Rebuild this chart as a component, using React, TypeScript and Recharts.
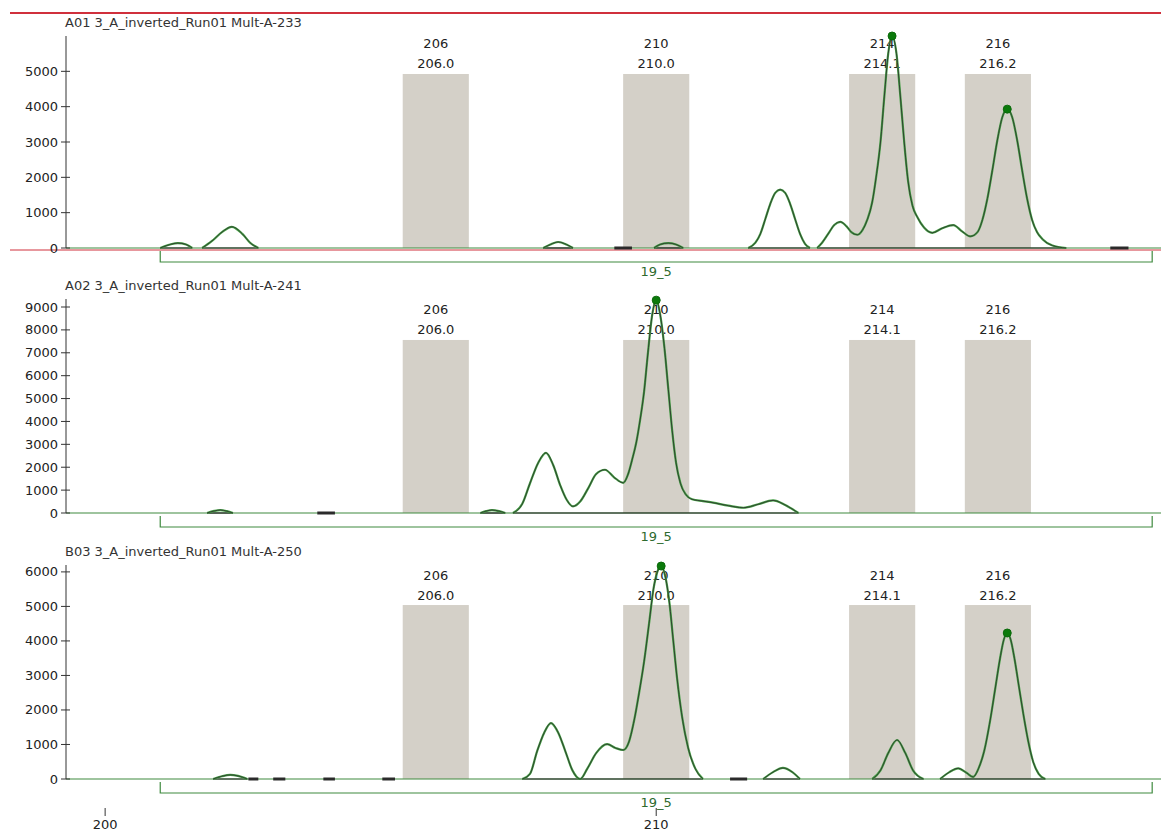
import React from "react";
import {
  LineChart,
  Line,
  XAxis,
  YAxis,
  ReferenceArea,
  ReferenceLine,
  ReferenceDot,
} from "recharts";

type Pt = [number, number];

// allele bins
const binNames = ["206", "210", "214", "216"];
const binCenters = [206.0, 210.0, 214.1, 216.2];
const binHalfWidth = 0.6;

// marker range under each panel
const markerName = "19_5";
const markerRange = [201, 219];

const xTicks = [200, 210];
const xDomain = [199.29, 219.16];

// A01 trace, one list per peak cluster: [size bp, RFU]
const a01Trace: Pt[][] = [
  [[201.0, 0], [201.18, 100], [201.32, 140], [201.47, 100], [201.58, 0]],
  [[201.76, 0], [201.94, 200], [202.12, 450], [202.3, 600], [202.49, 400], [202.63, 150], [202.78, 0]],
  [[207.95, 0], [208.08, 100], [208.22, 170], [208.37, 100], [208.49, 0]],
  [[209.96, 0], [210.07, 100], [210.22, 140], [210.36, 100], [210.49, 0]],
  [[211.67, 0], [211.8, 150], [211.89, 400], [211.98, 820], [212.07, 1250], [212.16, 1560], [212.25, 1650],
   [212.34, 1560], [212.43, 1250], [212.52, 820], [212.61, 400], [212.7, 120], [212.79, 0]],
  [[212.92, 0], [213.01, 150], [213.12, 400], [213.23, 650], [213.34, 740], [213.45, 620], [213.54, 450],
   [213.65, 375], [213.74, 500], [213.83, 800], [213.92, 1300], [213.99, 2000], [214.07, 3000], [214.14, 4300],
   [214.21, 5500], [214.28, 6000], [214.36, 5500], [214.43, 4300], [214.5, 3000], [214.57, 1900], [214.65, 1200],
   [214.74, 870], [214.86, 580], [215.01, 430], [215.19, 560], [215.39, 650], [215.55, 470], [215.7, 330],
   [215.83, 450], [215.92, 800], [216.01, 1400], [216.1, 2200], [216.19, 3050], [216.28, 3700], [216.37, 3930],
   [216.46, 3700], [216.55, 3050], [216.64, 2200], [216.73, 1400], [216.82, 800], [216.91, 450], [217.01, 250],
   [217.19, 70], [217.44, 0]],
];
const a01Flats: Pt[] = [[209.24, 209.56], [218.24, 218.57]];
const a01Peaks: Pt[] = [[214.28, 6000], [216.37, 3930]];

const a02Trace: Pt[][] = [
  [[201.85, 0], [201.98, 90], [202.09, 130], [202.21, 80], [202.32, 0]],
  [[206.81, 0], [206.91, 80], [207.02, 130], [207.15, 80], [207.26, 0]],
  [[207.4, 0], [207.57, 400], [207.71, 1300], [207.86, 2200], [208.0, 2630], [208.13, 2100], [208.26, 1200],
   [208.37, 600], [208.49, 290], [208.62, 500], [208.77, 1100], [208.91, 1700], [209.07, 1890], [209.24, 1550],
   [209.4, 1320], [209.49, 1700], [209.56, 2300], [209.64, 3100], [209.71, 4100], [209.78, 5300], [209.85, 7000],
   [209.93, 8700], [210.0, 9300], [210.07, 8700], [210.15, 7200], [210.22, 5400], [210.29, 3600], [210.36, 2200],
   [210.44, 1300], [210.54, 800], [210.65, 600], [210.85, 520], [211.03, 450], [211.31, 320], [211.58, 230],
   [211.85, 380], [212.12, 550], [212.34, 350], [212.58, 0]],
];
const a02Flats: Pt[] = [[203.85, 204.17]];
const a02Peaks: Pt[] = [[210.0, 9300]];

const b03Trace: Pt[][] = [
  [[201.96, 0], [202.12, 80], [202.27, 120], [202.41, 90], [202.58, 0]],
  [[207.57, 0], [207.71, 150], [207.84, 810], [207.97, 1350], [208.09, 1620], [208.22, 1350], [208.35, 810],
   [208.48, 250], [208.62, 0], [208.75, 300], [208.91, 750], [209.11, 1010], [209.26, 900], [209.4, 840],
   [209.51, 1100], [209.6, 1700], [209.69, 2500], [209.78, 3400], [209.87, 4500], [209.95, 5500], [210.02, 6000],
   [210.09, 6170], [210.16, 5900], [210.24, 5100], [210.31, 4000], [210.38, 2900], [210.47, 1800], [210.58, 900],
   [210.71, 300], [210.85, 0]],
  [[211.94, 0], [212.12, 200], [212.3, 320], [212.47, 200], [212.61, 0]],
  [[213.92, 0], [214.07, 250], [214.21, 750], [214.37, 1130], [214.52, 750], [214.66, 250], [214.85, 0]],
  [[215.15, 0], [215.32, 200], [215.48, 310], [215.63, 180], [215.75, 60], [215.86, 350], [215.95, 800],
   [216.06, 1700], [216.15, 2600], [216.24, 3500], [216.31, 4050], [216.37, 4230], [216.43, 4050], [216.5, 3500],
   [216.58, 2700], [216.66, 1900], [216.75, 1100], [216.84, 500], [216.94, 150], [217.06, 0]],
];
const b03Flats: Pt[] = [[202.6, 202.78], [203.05, 203.27], [203.96, 204.17], [205.03, 205.26], [211.34, 211.65]];
const b03Peaks: Pt[] = [[210.09, 6170], [216.37, 4230]];

const FONT = "'DejaVu Sans', Verdana, sans-serif";
const FS = 13;
const GREEN = "#3f8a3f";

const toRows = (clusters: Pt[][]) => {
  const rows: { s: number; v: number | null }[] = [];
  clusters.forEach((c, i) => {
    c.forEach(([s, v]) => rows.push({ s, v }));
    if (i < clusters.length - 1) rows.push({ s: (c[c.length - 1][0] + clusters[i + 1][0][0]) / 2, v: null });
  });
  return rows;
};

const YTick = (p: any) => (
  <g>
    <line x1={p.x - 5} x2={p.x + 4} y1={p.y} y2={p.y} stroke="#333" />
    <text x={p.x - 8} y={p.y} textAnchor="end" dominantBaseline="central" fontSize={FS} fontFamily={FONT} fill="#222">
      {p.payload.value}
    </text>
  </g>
);

const XTick = (p: any) => (
  <g>
    <line x1={p.x} x2={p.x} y1={p.y + 29} y2={p.y + 37} stroke="#333" />
    <text x={p.x} y={p.y + 45} textAnchor="middle" dominantBaseline="central" fontSize={FS} fontFamily={FONT} fill="#222">
      {p.payload.value}
    </text>
  </g>
);

interface PanelProps {
  title: string;
  trace: Pt[][];
  flats: Pt[];
  peaks: Pt[];
  yMax: number;
  yTicks: number[];
  binTop: number;
  top: number;
  height: number;
  marginTop: number;
  marginBottom: number;
  showX?: boolean;
  selected?: boolean;
}

const Panel = ({
  title, trace, flats, peaks, yMax, yTicks, binTop, top, height, marginTop, marginBottom, showX, selected,
}: PanelProps) => {
  const rows = toRows(trace);
  return (
    <div style={{ position: "absolute", left: 0, top, width: 1161, height }}>
      {selected && <div style={{ position: "absolute", left: 10, top: 12, width: 1151, height: 2, background: "#d0303c" }} />}
      <div
        style={{
          position: "absolute",
          left: 65,
          top: marginTop - 21,
          fontSize: FS,
          lineHeight: "15px",
          fontFamily: FONT,
          color: "#333",
          whiteSpace: "nowrap",
        }}
      >
        {title}
      </div>
      <LineChart
        width={1161}
        height={height}
        data={rows}
        margin={{ top: marginTop, right: 0, left: 0, bottom: marginBottom }}
        style={{ position: "absolute", left: 0, top: 0 }}
      >
        <XAxis
          type="number"
          dataKey="s"
          domain={xDomain}
          ticks={xTicks}
          interval={0}
          hide={!showX}
          height={53}
          axisLine={false}
          tickLine={false}
          tickSize={0}
          tickMargin={0}
          tick={<XTick />}
        />
        <YAxis
          type="number"
          domain={[0, yMax]}
          ticks={yTicks}
          interval={0}
          width={66}
          axisLine={{ stroke: "#333" }}
          tickLine={false}
          tickSize={0}
          tickMargin={0}
          tick={<YTick />}
        />
        {binCenters.map((c, i) => (
          <ReferenceArea
            key={binNames[i]}
            x1={c - binHalfWidth}
            x2={c + binHalfWidth}
            y1={0}
            y2={binTop}
            ifOverflow="visible"
            shape={(p: any) => (
              <g>
                <rect x={p.x} y={p.y} width={p.width} height={p.height} fill="#d4d0c8" />
                <text x={p.x + p.width / 2} y={p.y - 30} textAnchor="middle" dominantBaseline="central" fontSize={FS} fontFamily={FONT} fill="#222">
                  {binNames[i]}
                </text>
                <text x={p.x + p.width / 2} y={p.y - 10} textAnchor="middle" dominantBaseline="central" fontSize={FS} fontFamily={FONT} fill="#222">
                  {c.toFixed(1)}
                </text>
              </g>
            )}
          />
        ))}
        {selected && (
          <ReferenceLine
            segment={[{ x: xDomain[0], y: 0 }, { x: xDomain[1], y: 0 }]}
            ifOverflow="visible"
            shape={(p: any) => <line x1={10} x2={1161} y1={p.y1 + 2} y2={p.y1 + 2} stroke="#d0303c" />}
          />
        )}
        <ReferenceLine y={0} stroke={GREEN} strokeWidth={1.2} />
        <ReferenceLine
          segment={[{ x: markerRange[0], y: 0 }, { x: markerRange[1], y: 0 }]}
          ifOverflow="visible"
          shape={(p: any) => (
            <g>
              <path d={`M${p.x1},${p.y1 + 3}V${p.y1 + 14}H${p.x2}V${p.y1 + 3}`} fill="none" stroke={GREEN} strokeWidth={1.2} />
              <text x={(p.x1 + p.x2) / 2} y={p.y1 + 23} textAnchor="middle" dominantBaseline="central" fontSize={FS} fontFamily={FONT} fill="#2e6b2e">
                {markerName}
              </text>
            </g>
          )}
        />
        {trace.map((c, i) => (
          <ReferenceLine
            key={"b" + i}
            segment={[{ x: c[0][0], y: 0 }, { x: c[c.length - 1][0], y: 0 }]}
            stroke="#222"
            strokeWidth={1.2}
          />
        ))}
        {flats.map(([a, b], i) => (
          <ReferenceLine key={"f" + i} segment={[{ x: a, y: 0 }, { x: b, y: 0 }]} stroke="#2a2a2a" strokeWidth={3} />
        ))}
        <Line
          type="monotone"
          dataKey="v"
          stroke="#45a045"
          strokeWidth={2.2}
          dot={false}
          activeDot={false}
          connectNulls={false}
          isAnimationActive={false}
        />
        <Line
          type="monotone"
          dataKey="v"
          stroke="#2b2b2b"
          strokeWidth={0.8}
          dot={false}
          activeDot={false}
          connectNulls={false}
          isAnimationActive={false}
        />
        {peaks.map(([s, v], i) => (
          <ReferenceDot key={"p" + i} x={s} y={v} r={4} fill="#0b7a0b" stroke="#0b6a0b" ifOverflow="visible" />
        ))}
      </LineChart>
    </div>
  );
};

export default function App() {
  return (
    <div style={{ position: "absolute", left: 0, top: 0, width: 1161, height: 832, background: "#fff", overflow: "hidden" }}>
      <Panel
        title="A01 3_A_inverted_Run01 Mult-A-233"
        trace={a01Trace}
        flats={a01Flats}
        peaks={a01Peaks}
        yMax={6000}
        yTicks={[0, 1000, 2000, 3000, 4000, 5000]}
        binTop={4925}
        top={0}
        height={286}
        marginTop={36}
        marginBottom={38}
        selected
      />
      <Panel
        title="A02 3_A_inverted_Run01 Mult-A-241"
        trace={a02Trace}
        flats={a02Flats}
        peaks={a02Peaks}
        yMax={9350}
        yTicks={[0, 1000, 2000, 3000, 4000, 5000, 6000, 7000, 8000, 9000]}
        binTop={7560}
        top={275}
        height={276}
        marginTop={24}
        marginBottom={38}
      />
      <Panel
        title="B03 3_A_inverted_Run01 Mult-A-250"
        trace={b03Trace}
        flats={b03Flats}
        peaks={b03Peaks}
        yMax={6200}
        yTicks={[0, 1000, 2000, 3000, 4000, 5000, 6000]}
        binTop={5040}
        top={540}
        height={292}
        marginTop={25}
        marginBottom={0}
        showX
      />
    </div>
  );
}
